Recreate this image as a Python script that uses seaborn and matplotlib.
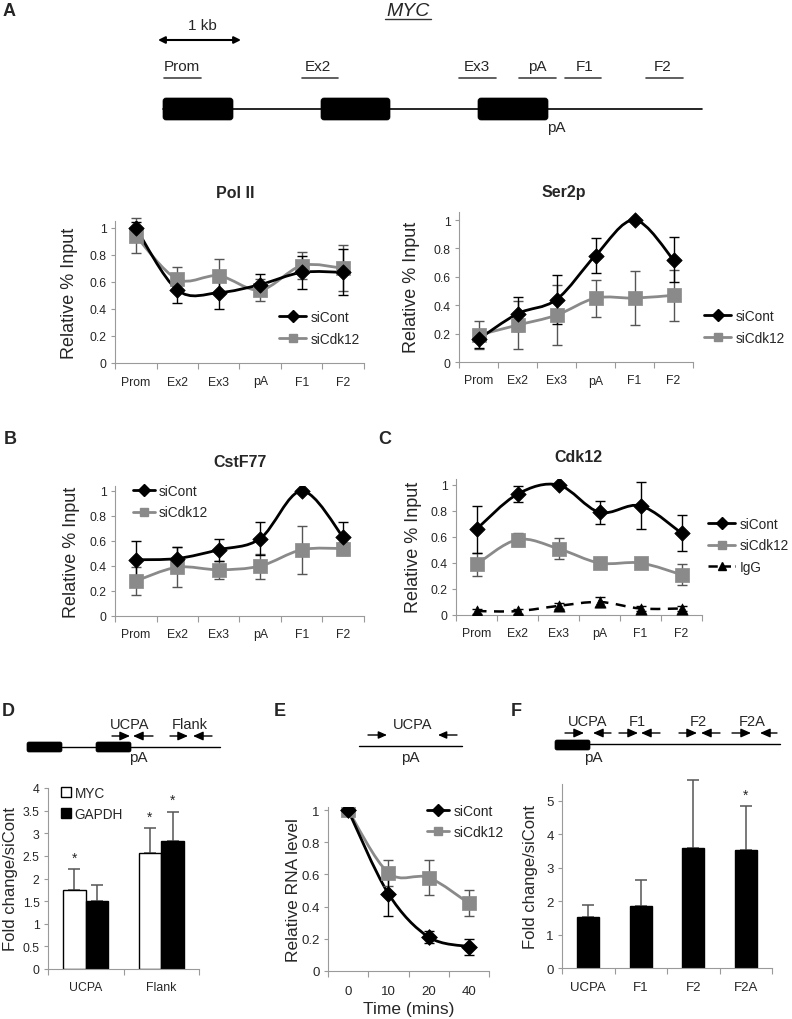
import numpy as np
import pandas as pd
import matplotlib
matplotlib.use('Agg')
import matplotlib.pyplot as plt
import seaborn as sns
from matplotlib.path import Path
from matplotlib.patches import PathPatch, FancyBboxPatch, Patch
from matplotlib.lines import Line2D
from matplotlib.ticker import FuncFormatter

# ---------------- data ----------------
regions = ['Prom', 'Ex2', 'Ex3', 'pA', 'F1', 'F2']

polII_cont = [1.00, 0.54, 0.52, 0.58, 0.67, 0.67]
polII_cont_err = [0.04, 0.10, 0.12, 0.08, 0.12, 0.17]
polII_cdk12 = [0.94, 0.62, 0.645, 0.54, 0.72, 0.70]
polII_cdk12_err = [0.13, 0.09, 0.125, 0.08, 0.10, 0.17]

ser2p_cont = [0.16, 0.34, 0.44, 0.75, 1.00, 0.72]
ser2p_cont_err = [0.06, 0.12, 0.17, 0.12, 0.0, 0.16]
ser2p_cdk12 = [0.19, 0.26, 0.33, 0.45, 0.45, 0.47]
ser2p_cdk12_err = [0.10, 0.17, 0.21, 0.13, 0.19, 0.18]

cstf_cont = [0.45, 0.46, 0.53, 0.62, 1.00, 0.63]
cstf_cont_err = [0.15, 0.09, 0.09, 0.13, 0.0, 0.12]
cstf_cdk12 = [0.28, 0.39, 0.37, 0.40, 0.53, 0.54]
cstf_cdk12_err = [0.11, 0.16, 0.07, 0.10, 0.19, 0.05]

cdk_cont = [0.66, 0.93, 1.00, 0.79, 0.84, 0.63]
cdk_cont_err = [0.18, 0.06, 0.0, 0.09, 0.18, 0.14]
cdk_cdk12 = [0.39, 0.58, 0.51, 0.40, 0.40, 0.31]
cdk_cdk12_err = [0.09, 0.05, 0.08, 0.03, 0.02, 0.08]
cdk_igg = [0.03, 0.03, 0.07, 0.10, 0.05, 0.05]
cdk_igg_err = [0.02, 0.02, 0.02, 0.04, 0.02, 0.02]

d_targets = ['UCPA', 'Flank']
d_myc = [1.75, 2.56]
d_myc_err = [0.46, 0.55]
d_myc_sig = [True, True]
d_gapdh = [1.51, 2.82]
d_gapdh_err = [0.35, 0.66]
d_gapdh_sig = [False, True]

e_times = ['0', '10', '20', '40']
e_cont = [1.00, 0.48, 0.21, 0.15]
e_cont_err = [0.0, 0.14, 0.04, 0.05]
e_cdk12 = [1.00, 0.61, 0.58, 0.42]
e_cdk12_err = [0.0, 0.08, 0.11, 0.08]

f_targets = ['UCPA', 'F1', 'F2', 'F2A']
f_vals = [1.52, 1.86, 3.58, 3.54]
f_err = [0.38, 0.79, 2.05, 1.31]
f_sig = [False, False, False, True]

# ---------------- style ----------------
sns.set_theme(style='white')
plt.rcParams['font.family'] = ['Liberation Sans', 'DejaVu Sans']

W, H = 792, 1020
fig = plt.figure(figsize=(W / 100, H / 100), dpi=100)

GRAY = '#8a8a8a'
SPINE = '#9a9a9a'


def px_axes(l, t, r, b):
    return fig.add_axes([l / W, 1 - b / H, (r - l) / W, (b - t) / H])


def smooth_path(x, y):
    pts = np.column_stack([x, y]).astype(float)
    n = len(pts)
    verts = [pts[0]]
    codes = [Path.MOVETO]
    for i in range(n - 1):
        p0 = pts[i - 1] if i > 0 else pts[i]
        p1, p2 = pts[i], pts[i + 1]
        p3 = pts[i + 2] if i + 2 < n else pts[i + 1]
        verts += [p1 + (p2 - p0) / 6, p2 - (p3 - p1) / 6, p2]
        codes += [Path.CURVE4] * 3
    return Path(verts, codes)


def draw_series(ax, y, err, color, marker, s, ls='-', lw=2.0, ecolor=None):
    x = np.arange(len(y))
    ax.add_patch(PathPatch(smooth_path(x, y), fill=False, edgecolor=color,
                           lw=lw, ls=ls, zorder=2))
    eb = ax.errorbar(x, y, yerr=err, fmt='none', ecolor=ecolor or color,
                     elinewidth=1, capsize=3.5, capthick=1, zorder=2.5)
    for art in eb.lines[1] + eb.lines[2]:
        art.set_clip_on(False)
    sns.scatterplot(x=x, y=y, marker=marker, s=s, color=color,
                    edgecolor=color, linewidth=0.5, ax=ax, zorder=3, legend=False)


def style_axes(ax, cats, ymax, yticks, fs=8.8, pad=9):
    n = len(cats)
    ax.set_xlim(-0.5, n - 0.5)
    ax.set_ylim(0, ymax)
    ax.set_xticks(range(n))
    ax.set_xticklabels(cats)
    ax.set_xticks(np.arange(-0.5, n), minor=True)
    ax.tick_params(axis='x', which='major', length=0, pad=pad, labelsize=fs, bottom=True)
    ax.tick_params(axis='x', which='minor', length=4, width=0.8, color=SPINE,
                   direction='out', bottom=True)
    ax.set_yticks(yticks)
    ax.yaxis.set_major_formatter(FuncFormatter(lambda v, p: '%g' % round(v, 2)))
    ax.tick_params(axis='y', length=3, width=0.8, color=SPINE, direction='out',
                   pad=3, labelsize=fs, left=True)
    for sp in ['top', 'right']:
        ax.spines[sp].set_visible(False)
    for sp in ['left', 'bottom']:
        ax.spines[sp].set_color(SPINE)
        ax.spines[sp].set_linewidth(0.8)
    ax.set_xlabel('')
    ax.set_ylabel('')


def ylabel_at(ax, text, xc, l, r, fs=13):
    ax.set_ylabel(text, fontsize=fs, va='center')
    ax.yaxis.set_label_coords((xc - l) / (r - l), 0.5)


# overlay axes in pixel coordinates for schematics and labels
ov = fig.add_axes([0, 0, 1, 1])
ov.set_xlim(0, W)
ov.set_ylim(H, 0)
ov.axis('off')
ov.patch.set_alpha(0)


def legend_at(handles, labels, x, y, fs=9.8, hl=2.0, ls=0.6):
    fig.legend(handles, labels, loc='upper left', bbox_to_anchor=(x, y),
               bbox_transform=ov.transData, frameon=False, borderpad=0,
               borderaxespad=0, handlelength=hl, handletextpad=0.3,
               labelspacing=ls, fontsize=fs)


h_cont = Line2D([], [], color='black', lw=2, marker='D', ms=6)
h_cdk = Line2D([], [], color=GRAY, lw=2, marker='s', ms=6)
h_igg = Line2D([], [], color='black', lw=1.8, ls='--', marker='^', ms=6)

line_yt = [0, 0.2, 0.4, 0.6, 0.8, 1]

# ---------------- Pol II ----------------
L, T, R, B = 115, 222, 364, 364
ax = px_axes(L, T, R, B)
draw_series(ax, polII_cdk12, polII_cdk12_err, GRAY, 's', 90, ecolor='#555555')
draw_series(ax, polII_cont, polII_cont_err, 'black', 'D', 62)
style_axes(ax, regions, 1.05, line_yt)
ylabel_at(ax, 'Relative % Input', 69, L, R)
legend_at([h_cont, h_cdk], ['siCont', 'siCdk12'], 279, 311)

# ---------------- Ser2p ----------------
L, T, R, B = 459, 212.5, 693, 363
ax = px_axes(L, T, R, B)
draw_series(ax, ser2p_cdk12, ser2p_cdk12_err, GRAY, 's', 90, ecolor='#555555')
draw_series(ax, ser2p_cont, ser2p_cont_err, 'black', 'D', 62)
style_axes(ax, regions, 1.06, line_yt)
ylabel_at(ax, 'Relative % Input', 411, L, R)
legend_at([h_cont, h_cdk], ['siCont', 'siCdk12'], 704, 310)

# ---------------- CstF77 ----------------
L, T, R, B = 115, 487, 364, 617
ax = px_axes(L, T, R, B)
draw_series(ax, cstf_cdk12, cstf_cdk12_err, GRAY, 's', 90, ecolor='#555555')
draw_series(ax, cstf_cont, cstf_cont_err, 'black', 'D', 62)
style_axes(ax, regions, 1.04, line_yt)
ylabel_at(ax, 'Relative % Input', 72, L, R)
legend_at([h_cont, h_cdk], ['siCont', 'siCdk12'], 133, 485, hl=1.6, ls=0.55)

# ---------------- Cdk12 ----------------
L, T, R, B = 456, 479.5, 702, 616
ax = px_axes(L, T, R, B)
draw_series(ax, cdk_igg, cdk_igg_err, 'black', '^', 65, ls=(0, (4, 3)), lw=1.8)
draw_series(ax, cdk_cdk12, cdk_cdk12_err, GRAY, 's', 90, ecolor='#555555')
draw_series(ax, cdk_cont, cdk_cont_err, 'black', 'D', 62)
style_axes(ax, regions, 1.05, line_yt)
ylabel_at(ax, 'Relative % Input', 413, L, R)
legend_at([h_cont, h_cdk, h_igg], ['siCont', 'siCdk12', 'IgG'], 708, 518, ls=0.55)

# ---------------- D ----------------
L, T, R, B = 48, 789, 199, 970
ax = px_axes(L, T, R, B)
dd = pd.DataFrame({'target': d_targets * 2,
                   'gene': ['MYC'] * 2 + ['GAPDH'] * 2,
                   'val': d_myc + d_gapdh})
sns.barplot(data=dd, x='target', y='val', hue='gene', hue_order=['MYC', 'GAPDH'],
            palette={'MYC': 'white', 'GAPDH': 'black'}, edgecolor='black',
            linewidth=1, width=0.6, errorbar=None, ax=ax, legend=False, zorder=2)
errs = d_myc_err + d_gapdh_err
sigs = d_myc_sig + d_gapdh_sig
bars = [p for p in ax.patches if p.get_height() > 0]
for p, e, sg in zip(bars, errs, sigs):
    xc = p.get_x() + p.get_width() / 2
    hgt = p.get_height()
    ax.errorbar([xc], [hgt], yerr=[[0], [e]], fmt='none', ecolor='#555555',
                elinewidth=1.1, capsize=4, capthick=1.1, zorder=1)
    if sg:
        ax.text(xc, hgt + e + 0.1, '*', ha='center', va='bottom', fontsize=10)
style_axes(ax, d_targets, 4, [0, 0.5, 1, 1.5, 2, 2.5, 3, 3.5, 4])
ylabel_at(ax, 'Fold change/siCont', 11, L, R, fs=12)
legend_at([Patch(facecolor='white', edgecolor='black'), Patch(facecolor='black', edgecolor='black')],
          ['MYC', 'GAPDH'], 61, 787, fs=9.8, hl=0.7, ls=0.5)

# ---------------- E ----------------
L, T, R, B = 328, 808, 489, 971.7
ax = px_axes(L, T, R, B)
draw_series(ax, e_cdk12, e_cdk12_err, GRAY, 's', 95, ecolor='#555555')
draw_series(ax, e_cont, e_cont_err, 'black', 'D', 65)
style_axes(ax, e_times, 1.02, line_yt, fs=9.5, pad=10)
ylabel_at(ax, 'Relative RNA level', 293, L, R, fs=12.5)
ax.set_xlabel('Time (mins)', fontsize=12.5, va='center')
ax.xaxis.set_label_coords(0.5, -(1010 - B) / (B - T))
legend_at([h_cont, h_cdk], ['siCont', 'siCdk12'], 427, 805, fs=10, hl=1.6, ls=0.5)

# ---------------- F ----------------
L, T, R, B = 562, 785, 772, 969.3
ax = px_axes(L, T, R, B)
fd = pd.DataFrame({'target': f_targets, 'val': f_vals})
sns.barplot(data=fd, x='target', y='val', color='black', edgecolor='black',
            width=0.42, errorbar=None, ax=ax, zorder=2)
for p, e, sg in zip(ax.patches, f_err, f_sig):
    xc = p.get_x() + p.get_width() / 2
    hgt = p.get_height()
    eb = ax.errorbar([xc], [hgt], yerr=[[0], [e]], fmt='none', ecolor='#555555',
                     elinewidth=1.1, capsize=4, capthick=1.1, zorder=1)
    for art in eb.lines[1] + eb.lines[2]:
        art.set_clip_on(False)
    if sg:
        ax.text(xc, hgt + e + 0.12, '*', ha='center', va='bottom', fontsize=10)
style_axes(ax, f_targets, 5.5, [0, 1, 2, 3, 4, 5], fs=9.5, pad=9.5)
ylabel_at(ax, 'Fold change/siCont', 530, L, R, fs=12)

# ---------------- schematics and labels ----------------
def txt(x, y, s, fs=11, **kw):
    ov.text(x, y, s, fontsize=fs, ha=kw.pop('ha', 'center'), va=kw.pop('va', 'center'), **kw)


def arrow(x0, x1, y, lw=1.0, ms=12):
    ov.annotate('', xy=(x1, y), xytext=(x0, y),
                arrowprops=dict(arrowstyle='-|>,head_length=0.5,head_width=0.22',
                                color='black', lw=lw,
                                mutation_scale=ms, shrinkA=0, shrinkB=0))


def exon(x, y, w, h, r=3):
    ov.add_patch(FancyBboxPatch((x, y), w, h, boxstyle='round,pad=0,rounding_size=%g' % r,
                                facecolor='black', edgecolor='black', lw=0.5))


# panel letters
for letter, x, y in [('A', 9, 11), ('B', 10, 440), ('C', 385, 440),
                     ('D', 8, 712), ('E', 280, 712), ('F', 516, 712)]:
    txt(x, y, letter, fs=13, fontweight='bold')

# panel A gene
txt(408, 11, 'MYC', fs=14, style='italic')
ov.plot([385, 431], [20, 20], color='#333333', lw=1)
txt(202, 26, '1 kb', fs=11)
ov.annotate('', xy=(241, 41), xytext=(158, 41),
            arrowprops=dict(arrowstyle='<|-|>', color='black', lw=1.5,
                            mutation_scale=10, shrinkA=0, shrinkB=0))
for lab, xc, u0, u1 in [('Prom', 182, 164, 201), ('Ex2', 318, 302, 338),
                        ('Ex3', 477, 459, 496), ('pA', 537, 519, 556),
                        ('F1', 585, 565, 601), ('F2', 663, 646, 683)]:
    txt(xc, 67, lab, fs=11)
    ov.plot([u0, u1], [79, 79], color='#444444', lw=1.2)
ov.plot([163, 702], [110, 110], color='black', lw=1.2)
for x0, w in [(163, 70), (321, 69), (478, 70)]:
    exon(x0, 99, w, 22, r=3)
txt(556, 128, 'pA', fs=11)

# titles
for t, x, y in [('Pol II', 235, 193), ('Ser2p', 564, 193),
                ('CstF77', 240, 463), ('Cdk12', 578, 458)]:
    txt(x, y, t, fs=11.5, fontweight='bold')

# panel D schematic
ov.plot([62, 220], [748, 748], color='black', lw=1)
exon(27, 743, 35, 10, r=2)
exon(96, 743, 35, 10, r=2)
txt(130, 725, 'UCPA', fs=10.5)
txt(190, 725, 'Flank', fs=10.5)
arrow(112, 130, 737)
arrow(153, 133, 737)
arrow(170, 188, 737)
arrow(212, 193, 737)
txt(138, 758, 'pA', fs=11)

# panel E schematic
txt(413, 725, 'UCPA', fs=10.5)
arrow(368, 387, 736, ms=10)
arrow(457, 438, 736, ms=10)
ov.plot([359, 462], [747, 747], color='black', lw=1)
txt(410, 758, 'pA', fs=11)

# panel F schematic
ov.plot([590, 780], [745, 745], color='black', lw=1)
exon(555, 741, 35, 10, r=2)
for lab, xc in [('UCPA', 588), ('F1', 637), ('F2', 698), ('F2A', 752)]:
    txt(xc, 722, lab, fs=10.5)
for a, b in [(565, 584), (611, 593), (619, 638), (660, 641),
             (679, 697), (720, 701), (732, 751), (777, 760)]:
    arrow(a, b, 734)
txt(593, 758, 'pA', fs=11)

fig.savefig('out.png', dpi=100)
